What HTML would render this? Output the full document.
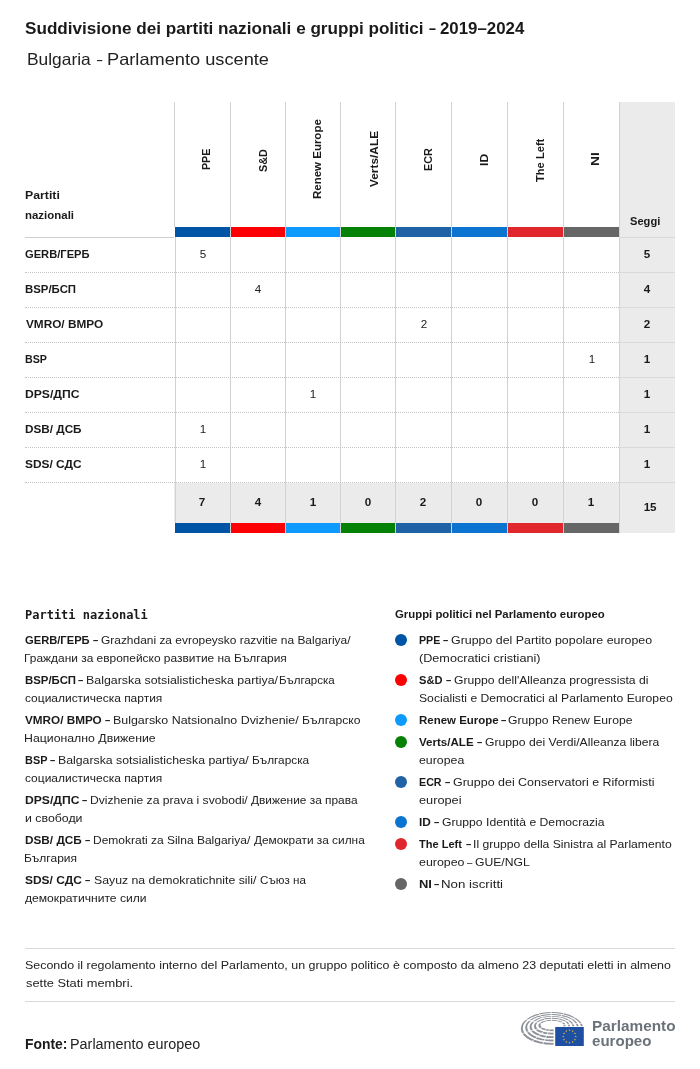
<!DOCTYPE html>
<html lang="it"><head><meta charset="utf-8"><title>Suddivisione dei partiti nazionali e gruppi politici</title>
<style>
*{box-sizing:border-box;margin:0;padding:0}
html,body{width:700px;height:1069px;background:#fff;overflow:hidden}
body{font-family:"Liberation Sans",sans-serif;color:#1a1a1a;position:relative}
.ln{position:absolute;left:0;width:700px;white-space:nowrap;color:#222}
.s{position:absolute;top:0;left:0;transform-origin:0 50%;white-space:pre;display:block}
.b{font-weight:bold;color:#1a1a1a}
.g{color:#6b727a}
.vl{position:absolute;width:1px;background:#d2d2d2;top:102px;height:431px}
.hl{position:absolute;left:25px;width:594px;height:0;border-top:1px dotted #c4c4c4}
.hs{position:absolute;left:619px;width:56px;height:1px;background:#d9d9d9}
.bar{position:absolute;height:10px}
#seggi{position:absolute;left:619px;top:102px;width:56px;height:431px;background:#ebebeb}
#totbg{position:absolute;left:174px;top:483px;width:445px;height:40px;background:#ebebeb}
.gh{position:absolute;white-space:nowrap;font-weight:bold;font-size:11.5px;line-height:14px;height:14px;transform-origin:0 0}
.c{position:absolute;width:56px;text-align:center;font-size:11px;line-height:35px;height:35px;color:#222}
.c span{display:inline-block;transform:scaleX(1.06)}
.cb{font-weight:bold;font-size:11px;color:#1a1a1a}
.dot{position:absolute;left:395px;width:12px;height:12px;border-radius:50%}
.fl{position:absolute;left:25px;width:650px;height:1px;background:#d9d9d9}
#lh1{font-family:"DejaVu Sans Mono","Liberation Mono",monospace}
</style></head><body>

<div class="ln" style="top:18px;font-size:16px;line-height:22px;height:22px;color:#1a1a1a"><span class="s b" style="left:25.43px;transform:scaleX(1.0701)">Suddivisione dei partiti nazionali e gruppi politici</span> <span class="s b" style="left:428.91px;transform:scaleX(0.7758)">–</span> <span class="s b" style="left:440.07px;transform:scaleX(1.0529)">2019–2024</span></div>
<div class="ln" style="top:47px;font-size:16.5px;line-height:24px;height:24px;"><span class="s" style="left:26.74px;transform:scaleX(1.0530)">Bulgaria</span> <span class="s" style="left:97.30px;transform:scaleX(0.5818)">–</span> <span class="s" style="left:106.58px;transform:scaleX(1.1036)">Parlamento uscente</span></div>
<div id="seggi"></div><div id="totbg"></div>
<div class="ln" style="top:185px;font-size:11px;line-height:20px;height:20px;"><span class="s b" style="left:24.62px;transform:scaleX(1.1172)">Partiti</span></div>
<div class="ln" style="top:205px;font-size:11px;line-height:20px;height:20px;"><span class="s b" style="left:24.67px;transform:scaleX(1.0415)">nazionali</span></div>
<div class="ln" style="top:211px;font-size:11px;line-height:20px;height:20px;"><span class="s b" style="left:630.10px;transform:scaleX(1.0106)">Seggi</span></div>
<div class="vl" style="left:174px;height:125px"></div><div class="vl" style="left:175px;top:237px;height:296px"></div>
<div class="vl" style="left:230px"></div>
<div class="vl" style="left:285px"></div>
<div class="vl" style="left:340px"></div>
<div class="vl" style="left:395px"></div>
<div class="vl" style="left:451px"></div>
<div class="vl" style="left:507px"></div>
<div class="vl" style="left:563px"></div>
<div class="vl" style="left:619px"></div>
<div class="bar" style="left:175px;width:55px;top:227px;background:#0054a5"></div>
<div class="bar" style="left:175px;width:55px;top:523px;background:#0054a5"></div>
<div class="gh" style="left:199.42px;top:170.19px;transform:rotate(-90deg) scaleX(0.9249)">PPE</div>
<div class="c cb" style="left:174.5px;top:482px;line-height:40px;height:40px"><span>7</span></div>
<div class="bar" style="left:231px;width:54px;top:227px;background:#fd0005"></div>
<div class="bar" style="left:231px;width:54px;top:523px;background:#fd0005"></div>
<div class="gh" style="left:256.32px;top:171.68px;transform:rotate(-90deg) scaleX(0.9394)">S&amp;D</div>
<div class="c cb" style="left:230.0px;top:482px;line-height:40px;height:40px"><span>4</span></div>
<div class="bar" style="left:286px;width:54px;top:227px;background:#0c9bfd"></div>
<div class="bar" style="left:286px;width:54px;top:523px;background:#0c9bfd"></div>
<div class="gh" style="left:310.20px;top:199.15px;transform:rotate(-90deg) scaleX(0.9990)">Renew Europe</div>
<div class="c cb" style="left:285.0px;top:482px;line-height:40px;height:40px"><span>1</span></div>
<div class="bar" style="left:341px;width:54px;top:227px;background:#058205"></div>
<div class="bar" style="left:341px;width:54px;top:523px;background:#058205"></div>
<div class="gh" style="left:367.02px;top:187.25px;transform:rotate(-90deg) scaleX(1.0324)">Verts/ALE</div>
<div class="c cb" style="left:340.0px;top:482px;line-height:40px;height:40px"><span>0</span></div>
<div class="bar" style="left:396px;width:55px;top:227px;background:#1f63a6"></div>
<div class="bar" style="left:396px;width:55px;top:523px;background:#1f63a6"></div>
<div class="gh" style="left:420.62px;top:171.20px;transform:rotate(-90deg) scaleX(0.9389)">ECR</div>
<div class="c cb" style="left:395.5px;top:482px;line-height:40px;height:40px"><span>2</span></div>
<div class="bar" style="left:452px;width:55px;top:227px;background:#0a74d0"></div>
<div class="bar" style="left:452px;width:55px;top:523px;background:#0a74d0"></div>
<div class="gh" style="left:476.62px;top:166.09px;transform:rotate(-90deg) scaleX(1.0588)">ID</div>
<div class="c cb" style="left:451.5px;top:482px;line-height:40px;height:40px"><span>0</span></div>
<div class="bar" style="left:508px;width:55px;top:227px;background:#e0272d"></div>
<div class="bar" style="left:508px;width:55px;top:523px;background:#e0272d"></div>
<div class="gh" style="left:532.82px;top:181.50px;transform:rotate(-90deg) scaleX(0.9688)">The Left</div>
<div class="c cb" style="left:507.5px;top:482px;line-height:40px;height:40px"><span>0</span></div>
<div class="bar" style="left:564px;width:55px;top:227px;background:#666666"></div>
<div class="bar" style="left:564px;width:55px;top:523px;background:#666666"></div>
<div class="gh" style="left:588.42px;top:166.19px;transform:rotate(-90deg) scaleX(1.1894)">NI</div>
<div class="c cb" style="left:563.5px;top:482px;line-height:40px;height:40px"><span>1</span></div>
<div class="c cb" style="left:621.8px;top:482px;line-height:50px;height:50px"><span>15</span></div>
<div class="hl" style="top:237px;width:149px;border-top:1px solid #cfcfcf"></div>
<div class="hs" style="top:237px"></div>
<div class="hl" style="top:272px"></div>
<div class="hs" style="top:272px"></div>
<div class="hl" style="top:307px"></div>
<div class="hs" style="top:307px"></div>
<div class="hl" style="top:342px"></div>
<div class="hs" style="top:342px"></div>
<div class="hl" style="top:377px"></div>
<div class="hs" style="top:377px"></div>
<div class="hl" style="top:412px"></div>
<div class="hs" style="top:412px"></div>
<div class="hl" style="top:447px"></div>
<div class="hs" style="top:447px"></div>
<div class="hl" style="top:482px"></div>
<div class="hs" style="top:482px"></div>
<div class="ln" style="top:237px;font-size:11px;line-height:35px;height:35px;"><span class="s b" style="left:25.14px;transform:scaleX(1.0136)">GERB/ГЕРБ</span></div>
<div class="c" style="left:175.5px;top:237px"><span>5</span></div>
<div class="c cb" style="left:619.5px;top:237px"><span>5</span></div>
<div class="ln" style="top:272px;font-size:11px;line-height:35px;height:35px;"><span class="s b" style="left:24.87px;transform:scaleX(1.0359)">BSP/БСП</span></div>
<div class="c" style="left:230.2px;top:272px"><span>4</span></div>
<div class="c cb" style="left:619.5px;top:272px"><span>4</span></div>
<div class="ln" style="top:307px;font-size:11px;line-height:35px;height:35px;"><span class="s b" style="left:25.55px;transform:scaleX(1.0719)">VMRO/ ВМРО</span></div>
<div class="c" style="left:395.7px;top:307px"><span>2</span></div>
<div class="c cb" style="left:619.5px;top:307px"><span>2</span></div>
<div class="ln" style="top:342px;font-size:11px;line-height:35px;height:35px;"><span class="s b" style="left:24.92px;transform:scaleX(0.9731)">BSP</span></div>
<div class="c" style="left:563.7px;top:342px"><span>1</span></div>
<div class="c cb" style="left:619.5px;top:342px"><span>1</span></div>
<div class="ln" style="top:377px;font-size:11px;line-height:35px;height:35px;"><span class="s b" style="left:24.83px;transform:scaleX(1.1041)">DPS/ДПС</span></div>
<div class="c" style="left:285.2px;top:377px"><span>1</span></div>
<div class="c cb" style="left:619.5px;top:377px"><span>1</span></div>
<div class="ln" style="top:412px;font-size:11px;line-height:35px;height:35px;"><span class="s b" style="left:24.85px;transform:scaleX(1.0661)">DSB/ ДСБ</span></div>
<div class="c" style="left:175.5px;top:412px"><span>1</span></div>
<div class="c cb" style="left:619.5px;top:412px"><span>1</span></div>
<div class="ln" style="top:447px;font-size:11px;line-height:35px;height:35px;"><span class="s b" style="left:25.28px;transform:scaleX(1.0829)">SDS/ СДС</span></div>
<div class="c" style="left:175.5px;top:447px"><span>1</span></div>
<div class="c cb" style="left:619.5px;top:447px"><span>1</span></div>
<div id="lh1" class="ln b" style="top:607px;font-size:12px;line-height:16px;height:16px"><span class="s" style="left:25px">Partiti nazionali</span></div>
<div class="ln" style="top:605px;font-size:11px;line-height:18px;height:18px;"><span class="s b" style="left:395.33px;transform:scaleX(1.0334)">Gruppi politici nel Parlamento europeo</span></div>
<div class="ln" style="top:631px;font-size:11px;line-height:18px;height:18px;"><span class="s b" style="left:24.94px;transform:scaleX(1.0152)">GERB/ГЕРБ</span> <span class="s b" style="left:92.94px;transform:scaleX(0.8545)">–</span> <span class="s" style="left:101.20px;transform:scaleX(1.0851)">Grazhdani za evropeysko razvitie na Balgariya/</span></div>
<div class="ln" style="top:649px;font-size:11px;line-height:18px;height:18px;"><span class="s" style="left:24.42px;transform:scaleX(1.0843)">Граждани за европейско развитие на България</span></div>
<div class="ln" style="top:671px;font-size:11px;line-height:18px;height:18px;"><span class="s b" style="left:24.67px;transform:scaleX(1.0359)">BSP/БСП</span> <span class="s b" style="left:78.04px;transform:scaleX(0.8545)">–</span> <span class="s" style="left:86.39px;transform:scaleX(1.1254)">Balgarska sotsialisticheska partiya/</span><span class="s" style="left:278.66px;transform:scaleX(1.0474)">Българска</span></div>
<div class="ln" style="top:689px;font-size:11px;line-height:18px;height:18px;"><span class="s" style="left:24.91px;transform:scaleX(1.0879)">социалистическа партия</span></div>
<div class="ln" style="top:711px;font-size:11px;line-height:18px;height:18px;"><span class="s b" style="left:25.35px;transform:scaleX(1.0663)">VMRO/ ВМРО</span> <span class="s b" style="left:105.04px;transform:scaleX(0.8545)">–</span> <span class="s" style="left:112.88px;transform:scaleX(1.1288)">Bulgarsko Natsionalno Dvizhenie/</span> <span class="s" style="left:301.61px;transform:scaleX(1.1033)">Българско</span></div>
<div class="ln" style="top:729px;font-size:11px;line-height:18px;height:18px;"><span class="s" style="left:24.39px;transform:scaleX(1.1180)">Национално Движение</span></div>
<div class="ln" style="top:751px;font-size:11px;line-height:18px;height:18px;"><span class="s b" style="left:24.71px;transform:scaleX(0.9916)">BSP</span> <span class="s b" style="left:49.74px;transform:scaleX(0.8545)">–</span> <span class="s" style="left:57.59px;transform:scaleX(1.1183)">Balgarska sotsialisticheska partiya/</span> <span class="s" style="left:252.23px;transform:scaleX(1.0741)">Българска</span></div>
<div class="ln" style="top:769px;font-size:11px;line-height:18px;height:18px;"><span class="s" style="left:24.91px;transform:scaleX(1.0879)">социалистическа партия</span></div>
<div class="ln" style="top:791px;font-size:11px;line-height:18px;height:18px;"><span class="s b" style="left:24.63px;transform:scaleX(1.1041)">DPS/ДПС</span> <span class="s b" style="left:81.94px;transform:scaleX(0.8545)">–</span> <span class="s" style="left:89.71px;transform:scaleX(1.1025)">Dvizhenie za prava i svobodi/</span> <span class="s" style="left:250.95px;transform:scaleX(1.0808)">Движение за права</span></div>
<div class="ln" style="top:809px;font-size:11px;line-height:18px;height:18px;"><span class="s" style="left:24.56px;transform:scaleX(1.1209)">и свободи</span></div>
<div class="ln" style="top:831px;font-size:11px;line-height:18px;height:18px;"><span class="s b" style="left:24.65px;transform:scaleX(1.0699)">DSB/ ДСБ</span> <span class="s b" style="left:84.94px;transform:scaleX(0.8545)">–</span> <span class="s" style="left:93.02px;transform:scaleX(1.0897)">Demokrati za Silna Balgariya/</span> <span class="s" style="left:253.75px;transform:scaleX(1.0774)">Демократи за силна</span></div>
<div class="ln" style="top:849px;font-size:11px;line-height:18px;height:18px;"><span class="s" style="left:24.42px;transform:scaleX(1.0902)">България</span></div>
<div class="ln" style="top:871px;font-size:11px;line-height:18px;height:18px;"><span class="s b" style="left:25.07px;transform:scaleX(1.0867)">SDS/ СДС</span> <span class="s b" style="left:84.94px;transform:scaleX(0.8545)">–</span> <span class="s" style="left:93.50px;transform:scaleX(1.1164)">Sayuz na demokratichnite sili/</span> <span class="s" style="left:260.02px;transform:scaleX(1.0573)">Съюз на</span></div>
<div class="ln" style="top:889px;font-size:11px;line-height:18px;height:18px;"><span class="s" style="left:25.29px;transform:scaleX(1.1003)">демократичните сили</span></div>
<div class="dot" style="top:634px;background:#0054a5"></div>
<div class="ln" style="top:631px;font-size:11px;line-height:18px;height:18px;"><span class="s b" style="left:418.72px;transform:scaleX(0.9702)">PPE</span> <span class="s b" style="left:442.94px;transform:scaleX(0.8545)">–</span> <span class="s" style="left:450.78px;transform:scaleX(1.1261)">Gruppo del Partito popolare europeo</span></div>
<div class="ln" style="top:649px;font-size:11px;line-height:18px;height:18px;"><span class="s" style="left:418.65px;transform:scaleX(1.1492)">(Democratici cristiani)</span></div>
<div class="dot" style="top:674px;background:#fd0005"></div>
<div class="ln" style="top:671px;font-size:11px;line-height:18px;height:18px;"><span class="s b" style="left:419.10px;transform:scaleX(1.0098)">S&amp;D</span> <span class="s b" style="left:446.04px;transform:scaleX(0.8545)">–</span> <span class="s" style="left:453.69px;transform:scaleX(1.1065)">Gruppo dell'Alleanza progressista di</span></div>
<div class="ln" style="top:689px;font-size:11px;line-height:18px;height:18px;"><span class="s" style="left:418.90px;transform:scaleX(1.1064)">Socialisti e Democratici al Parlamento Europeo</span></div>
<div class="dot" style="top:714px;background:#0c9bfd"></div>
<div class="ln" style="top:711px;font-size:11px;line-height:18px;height:18px;"><span class="s b" style="left:418.67px;transform:scaleX(1.0420)">Renew Europe</span> <span class="s b" style="left:501.04px;transform:scaleX(0.8545)">–</span> <span class="s" style="left:508.19px;transform:scaleX(1.1059)">Gruppo Renew Europe</span></div>
<div class="dot" style="top:736px;background:#058205"></div>
<div class="ln" style="top:733px;font-size:11px;line-height:18px;height:18px;"><span class="s b" style="left:419.35px;transform:scaleX(1.0518)">Verts/ALE</span> <span class="s b" style="left:477.14px;transform:scaleX(0.8545)">–</span> <span class="s" style="left:485.09px;transform:scaleX(1.1053)">Gruppo dei Verdi/Alleanza libera</span></div>
<div class="ln" style="top:751px;font-size:11px;line-height:18px;height:18px;"><span class="s" style="left:418.90px;transform:scaleX(1.1214)">europea</span></div>
<div class="dot" style="top:776px;background:#1f63a6"></div>
<div class="ln" style="top:773px;font-size:11px;line-height:18px;height:18px;"><span class="s b" style="left:418.72px;transform:scaleX(0.9718)">ECR</span> <span class="s b" style="left:445.04px;transform:scaleX(0.8545)">–</span> <span class="s" style="left:452.98px;transform:scaleX(1.1327)">Gruppo dei Conservatori e Riformisti</span></div>
<div class="ln" style="top:791px;font-size:11px;line-height:18px;height:18px;"><span class="s" style="left:418.88px;transform:scaleX(1.1589)">europei</span></div>
<div class="dot" style="top:816px;background:#0a74d0"></div>
<div class="ln" style="top:813px;font-size:11px;line-height:18px;height:18px;"><span class="s b" style="left:418.65px;transform:scaleX(1.0755)">ID</span> <span class="s b" style="left:434.04px;transform:scaleX(0.8545)">–</span> <span class="s" style="left:441.99px;transform:scaleX(1.1079)">Gruppo Identità e Democrazia</span></div>
<div class="dot" style="top:838px;background:#e0272d"></div>
<div class="ln" style="top:835px;font-size:11px;line-height:18px;height:18px;"><span class="s b" style="left:419.30px;transform:scaleX(1.0032)">The Left</span> <span class="s b" style="left:465.54px;transform:scaleX(0.8545)">–</span> <span class="s" style="left:472.99px;transform:scaleX(1.1051)">Il gruppo della Sinistra al Parlamento</span></div>
<div class="ln" style="top:853px;font-size:11px;line-height:18px;height:18px;"><span class="s" style="left:418.89px;transform:scaleX(1.1265)">europeo</span> <span class="s" style="left:466.60px;transform:scaleX(0.8780)">–</span> <span class="s" style="left:475.49px;transform:scaleX(1.1060)">GUE/NGL</span></div>
<div class="dot" style="top:878px;background:#666666"></div>
<div class="ln" style="top:875px;font-size:11px;line-height:18px;height:18px;"><span class="s b" style="left:418.58px;transform:scaleX(1.1778)">NI</span> <span class="s b" style="left:434.04px;transform:scaleX(0.8545)">–</span> <span class="s" style="left:441.31px;transform:scaleX(1.2081)">Non iscritti</span></div>
<div class="fl" style="top:948px"></div>
<div class="ln" style="top:956px;font-size:11px;line-height:18px;height:18px;"><span class="s" style="left:25.49px;transform:scaleX(1.1310)">Secondo il regolamento interno del Parlamento, un gruppo politico è composto da almeno 23 deputati eletti in almeno</span></div>
<div class="ln" style="top:974px;font-size:11px;line-height:18px;height:18px;"><span class="s" style="left:25.65px;transform:scaleX(1.1676)">sette Stati membri.</span></div>
<div class="fl" style="top:1001px"></div>
<div class="ln" style="top:1034px;font-size:14px;line-height:20px;height:20px;"><span class="s b" style="left:25.13px;transform:scaleX(0.9919)">Fonte:</span> <span class="s" style="left:70.38px;transform:scaleX(1.0272)">Parlamento europeo</span></div>
<svg style="position:absolute;left:515px;top:1005px" width="75" height="46" viewBox="515 1005 75 46"><defs><clipPath id="hc"><path d="M515 1005H590V1026.2H553.6V1051H515Z"/></clipPath></defs><g clip-path="url(#hc)" fill="#8e9298" fill-rule="evenodd"><path d="M520.80 1028.45A31.20 16.35 0 1 0 583.20 1028.45A31.20 16.35 0 1 0 520.80 1028.45ZM522.80 1028.03A29.20 14.97 0 1 0 581.20 1028.03A29.20 14.97 0 1 0 522.80 1028.03Z"/><path d="M525.20 1027.70A26.80 13.70 0 1 0 578.80 1027.70A26.80 13.70 0 1 0 525.20 1027.70ZM527.20 1027.28A24.80 12.32 0 1 0 576.80 1027.28A24.80 12.32 0 1 0 527.20 1027.28Z"/><path d="M529.60 1026.95A22.40 11.05 0 1 0 574.40 1026.95A22.40 11.05 0 1 0 529.60 1026.95ZM531.60 1026.53A20.40 9.68 0 1 0 572.40 1026.53A20.40 9.68 0 1 0 531.60 1026.53Z"/><path d="M534.00 1026.20A18.00 8.40 0 1 0 570.00 1026.20A18.00 8.40 0 1 0 534.00 1026.20ZM536.00 1025.78A16.00 7.02 0 1 0 568.00 1025.78A16.00 7.02 0 1 0 536.00 1025.78Z"/><path d="M538.40 1025.45A13.60 5.75 0 1 0 565.60 1025.45A13.60 5.75 0 1 0 538.40 1025.45ZM540.40 1025.03A11.60 4.38 0 1 0 563.60 1025.03A11.60 4.38 0 1 0 540.40 1025.03Z"/></g><g stroke="#fff" stroke-width="0.8" clip-path="url(#hc)"><line x1="545.07" y1="1024.25" x2="521.69" y2="1018.40"/><line x1="548.24" y1="1022.91" x2="535.57" y2="1010.74"/><line x1="551.72" y1="1022.50" x2="550.78" y2="1008.41"/><line x1="555.25" y1="1022.80" x2="566.24" y2="1010.13"/><line x1="558.30" y1="1023.85" x2="579.58" y2="1016.09"/><line x1="559.69" y1="1025.04" x2="585.64" y2="1022.89"/><line x1="544.39" y1="1027.08" x2="518.71" y2="1034.58"/><line x1="546.86" y1="1028.68" x2="529.50" y2="1043.72"/><line x1="549.53" y1="1029.33" x2="541.18" y2="1047.42"/></g><rect x="555.2" y="1027" width="28.6" height="19" fill="#1f4fa3"/><polygon points="569.50,1029.15 569.75,1029.86 570.50,1029.88 569.90,1030.33 570.12,1031.05 569.50,1030.62 568.88,1031.05 569.10,1030.33 568.50,1029.88 569.25,1029.86" fill="#ffd617"/><polygon points="572.65,1029.99 572.90,1030.70 573.65,1030.72 573.05,1031.17 573.27,1031.89 572.65,1031.46 572.03,1031.89 572.25,1031.17 571.65,1030.72 572.40,1030.70" fill="#ffd617"/><polygon points="574.96,1032.30 575.20,1033.01 575.95,1033.03 575.36,1033.48 575.57,1034.20 574.96,1033.77 574.34,1034.20 574.56,1033.48 573.96,1033.03 574.71,1033.01" fill="#ffd617"/><polygon points="575.80,1035.45 576.05,1036.16 576.80,1036.18 576.20,1036.63 576.42,1037.35 575.80,1036.92 575.18,1037.35 575.40,1036.63 574.80,1036.18 575.55,1036.16" fill="#ffd617"/><polygon points="574.96,1038.60 575.20,1039.31 575.95,1039.33 575.36,1039.78 575.57,1040.50 574.96,1040.07 574.34,1040.50 574.56,1039.78 573.96,1039.33 574.71,1039.31" fill="#ffd617"/><polygon points="572.65,1040.91 572.90,1041.62 573.65,1041.63 573.05,1042.09 573.27,1042.81 572.65,1042.38 572.03,1042.81 572.25,1042.09 571.65,1041.63 572.40,1041.62" fill="#ffd617"/><polygon points="569.50,1041.75 569.75,1042.46 570.50,1042.48 569.90,1042.93 570.12,1043.65 569.50,1043.22 568.88,1043.65 569.10,1042.93 568.50,1042.48 569.25,1042.46" fill="#ffd617"/><polygon points="566.35,1040.91 566.60,1041.62 567.35,1041.63 566.75,1042.09 566.97,1042.81 566.35,1042.38 565.73,1042.81 565.95,1042.09 565.35,1041.63 566.10,1041.62" fill="#ffd617"/><polygon points="564.04,1038.60 564.29,1039.31 565.04,1039.33 564.44,1039.78 564.66,1040.50 564.04,1040.07 563.43,1040.50 563.64,1039.78 563.05,1039.33 563.80,1039.31" fill="#ffd617"/><polygon points="563.20,1035.45 563.45,1036.16 564.20,1036.18 563.60,1036.63 563.82,1037.35 563.20,1036.92 562.58,1037.35 562.80,1036.63 562.20,1036.18 562.95,1036.16" fill="#ffd617"/><polygon points="564.04,1032.30 564.29,1033.01 565.04,1033.03 564.44,1033.48 564.66,1034.20 564.04,1033.77 563.43,1034.20 563.64,1033.48 563.05,1033.03 563.80,1033.01" fill="#ffd617"/><polygon points="566.35,1029.99 566.60,1030.70 567.35,1030.72 566.75,1031.17 566.97,1031.89 566.35,1031.46 565.73,1031.89 565.95,1031.17 565.35,1030.72 566.10,1030.70" fill="#ffd617"/></svg>
<div class="ln" style="top:1016px;font-size:14px;line-height:20px;height:20px;color:#6b727a"><span class="s b g" style="left:591.94px;transform:scaleX(1.0959)">Parlamento</span></div>
<div class="ln" style="top:1031px;font-size:14px;line-height:20px;height:20px;color:#6b727a"><span class="s b g" style="left:592.43px;transform:scaleX(1.0767)">europeo</span></div>
</body></html>
